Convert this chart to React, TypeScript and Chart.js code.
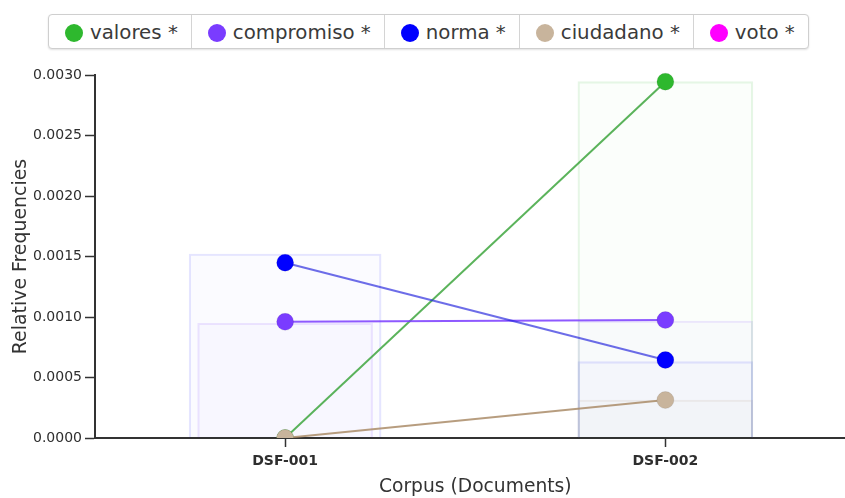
import React, { useEffect, useRef } from "react";
import { Chart, registerables } from "chart.js";

Chart.register(...registerables);

// ---- data ----
const categories = ["DSF-001", "DSF-002"];
const seriesNames = ["valores *", "compromiso *", "norma *", "ciudadano *", "voto *"];
const pointColors = ["#2eb82e", "#7a3cff", "#0000ff", "#c8b49c", "#ff00ff"];
const lineColors = [
  "rgba(50,160,50,0.8)",
  "rgba(122,60,255,0.85)",
  "rgba(30,30,220,0.65)",
  "rgba(170,140,105,0.85)",
  "rgba(255,0,255,0.75)",
];
const barRgb = ["46,184,46", "122,60,255", "40,40,255", "170,140,105", "255,0,255"];

const valores = [0, 0.002945];
const compromiso = [0.00096, 0.000975];
const norma = [0.001449, 0.000645];
const ciudadano = [0, 0.000314];
const voto: (number | null)[] = [null, null];

const valoresBar = [null, 0.002945];
const compromisoBar = [0.000948, 0.000967];
const normaBar = [0.001521, 0.000631];
const ciudadanoBar = [null, 0.000314];
const votoBar: (number | null)[] = [null, null];

const yMin = 0;
const yMax = 0.003;
const yStep = 0.0005;

const lineSeries = [valores, compromiso, norma, ciudadano, voto];
const barSeries = [valoresBar, compromisoBar, normaBar, ciudadanoBar, votoBar];

const FONT = '"DejaVu Sans", Verdana, sans-serif';

export default function App() {
  const canvasRef = useRef<HTMLCanvasElement | null>(null);

  useEffect(() => {
    if (!canvasRef.current) return;
    const datasets: any[] = [];

    // background boxes (overlapping bars)
    barSeries.forEach((vals, s) => {
      categories.forEach((_, i) => {
        if (vals[i] == null) return;
        const data = categories.map((__, j) => (j === i ? vals[i] : null));
        datasets.push({
          type: "bar",
          label: "bar-" + s + "-" + i,
          data,
          grouped: false,
          barThickness: s === 2 && i === 0 ? 192 : 175,
          backgroundColor: `rgba(${barRgb[s]},0.018)`,
          borderColor: `rgba(${barRgb[s]},0.12)`,
          borderWidth: 1.5,
          borderSkipped: "bottom",
          order: 20,
        });
      });
    });

    lineSeries.forEach((vals, s) => {
      datasets.push({
        type: "line",
        label: seriesNames[s],
        data: vals,
        borderColor: lineColors[s],
        borderWidth: 2,
        backgroundColor: pointColors[s],
        pointBackgroundColor: pointColors[s],
        pointBorderColor: "rgba(0,0,0,0.08)",
        pointBorderWidth: 1,
        pointRadius: 8.5,
        fill: false,
        tension: 0,
        spanGaps: false,
        clip: { left: 12, right: 12, top: 12, bottom: 0 },
        order: lineSeries.length - s,
      });
    });

    const chart = new Chart(canvasRef.current, {
      type: "bar",
      data: { labels: categories, datasets },
      options: {
        animation: false,
        responsive: true,
        maintainAspectRatio: false,
        layout: { padding: { top: 20, left: 0, right: 0, bottom: 0 } },
        plugins: {
          legend: { display: false },
          tooltip: { enabled: false },
          title: { display: false },
        },
        scales: {
          x: {
            type: "category",
            offset: true,
            afterFit: (scale: any) => {
              scale.height = 72;
            },
            grid: {
              display: true,
              drawOnChartArea: false,
              drawTicks: true,
              tickLength: 9,
              tickWidth: 1.5,
              tickColor: "#333",
              offset: false,
            },
            border: { display: true, color: "#333", width: 2 },
            ticks: {
              color: "#2e2e2e",
              padding: 6,
              font: { family: FONT, size: 14, weight: "bold" },
            },
            title: {
              display: true,
              text: "Corpus (Documents)",
              color: "#333",
              font: { family: FONT, size: 18.7 },
              padding: { top: 0, bottom: 12 },
            },
          },
          y: {
            type: "linear",
            min: yMin,
            max: yMax,
            afterFit: (scale: any) => {
              scale.width = 95;
            },
            grid: {
              display: true,
              drawOnChartArea: false,
              drawTicks: true,
              tickLength: 10,
              tickWidth: 1.5,
              tickColor: "#333",
            },
            border: { display: true, color: "#333", width: 2 },
            ticks: {
              stepSize: yStep,
              color: "#2e2e2e",
              padding: 3,
              font: { family: FONT, size: 14 },
              callback: (v: any) => Number(v).toFixed(4),
            },
            title: {
              display: true,
              text: "Relative Frequencies",
              color: "#333",
              font: { family: FONT, size: 18.9 },
              padding: { top: 10, bottom: 0 },
            },
          },
        },
      } as any,
    });
    return () => chart.destroy();
  }, []);

  return (
    <div
      style={{
        position: "fixed",
        left: 0,
        top: 0,
        width: 845,
        height: 498,
        overflow: "hidden",
        background: "#fff",
        fontFamily: FONT,
      }}
    >
      <div
        style={{
          position: "absolute",
          left: 48,
          top: 14,
          height: 33,
          display: "flex",
          alignItems: "stretch",
          border: "1px solid #cfcfcf",
          borderRadius: 4,
          boxShadow: "0 1px 2px rgba(0,0,0,0.12)",
          background: "#fff",
          zIndex: 2,
        }}
      >
        {seriesNames.map((name, i) => (
          <div
            key={name}
            style={{
              display: "flex",
              alignItems: "center",
              padding: "1px 13px 0 16px",
              borderLeft: i === 0 ? "none" : "1px solid #d4d4d4",
              color: "#3a3a3a",
              fontSize: 19.8,
              whiteSpace: "nowrap",
            }}
          >
            <span
              style={{
                display: "inline-block",
                width: 18,
                height: 18,
                borderRadius: "50%",
                background: pointColors[i],
                marginRight: 7,
                marginTop: 2,
              }}
            />
            <span>{name}</span>
          </div>
        ))}
      </div>
      <div style={{ position: "absolute", left: 0, top: 55, width: 865, height: 455 }}>
        <canvas ref={canvasRef} />
      </div>
    </div>
  );
}
